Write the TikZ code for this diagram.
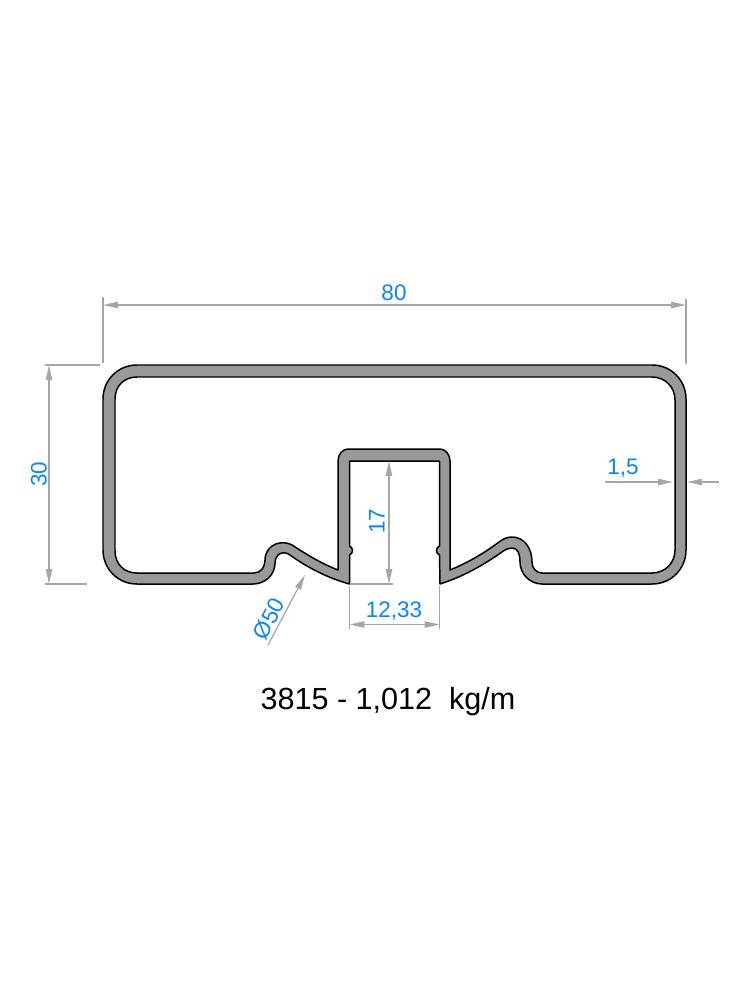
\documentclass[tikz,border=0pt]{standalone}
\usepackage{fontspec}
\setmainfont{Liberation Sans}
\usetikzlibrary{arrows.meta}
\definecolor{dimblue}{HTML}{0A84FF}
\definecolor{dimgray}{HTML}{A6A6A6}
\definecolor{wallgray}{HTML}{999999}

\begin{document}
\begin{tikzpicture}[x=0.02cm,y=-0.02cm]
	\tikzstyle{wall} = [draw=black,fill=wallgray,line width=0.85pt,even odd rule,line join=round]
	\tikzstyle{dimline} = [draw=dimgray,line width=0.7pt]
	\tikzstyle{dimarrow} = [dimline,{Triangle[length=8.5pt,width=3.6pt]}-{Triangle[length=8.5pt,width=3.6pt]}]
	\tikzstyle{dimtip} = [dimline,-{Triangle[length=8.5pt,width=3.6pt]}]
	\tikzstyle{dimlabel} = [text=dimblue,font=\fontsize{12.8}{15}\selectfont,inner sep=0pt]
	\useasboundingbox (0,0) rectangle (750,1000);
	\path[wall] (137,365) -- (652,365) .. controls (671,365) and (686,380) .. (686,399)
		-- (686,550) .. controls (686,569) and (671,584) .. (652,584)
		-- (542,584) .. controls (530,584) and (520,574) .. (520,562)
		.. controls (520,554) and (518,548) .. (512,548)
		.. controls (509,548) and (506,549) .. (502,552)
		.. controls (482,566) and (462,577) .. (440,584)
		-- (439.5,555) .. controls (437.5,554) and (436.5,552.5) .. (436.5,550.5) .. controls (436.5,548.5) and (437.5,547) .. (439.5,546)
		-- (439.5,461) -- (349.5,461) -- (349.5,546)
		.. controls (351.5,547) and (352.5,548.5) .. (352.5,550.5) .. controls (352.5,552.5) and (351.5,554) .. (349.5,555)
		-- (349.5,584) .. controls (328,578) and (308,568) .. (290,555)
		.. controls (286,552) and (281,552) .. (278,555)
		.. controls (276,557) and (275,560) .. (275,563)
		.. controls (275,575) and (265,584) .. (253,584)
		-- (137,584) .. controls (118,584) and (103,569) .. (103,550)
		-- (103,399) .. controls (103,380) and (118,365) .. (137,365) -- cycle
		(137,377) -- (652,377) .. controls (665,377) and (675,387) .. (675,400)
		-- (675,550) .. controls (675,563) and (665,573) .. (652,573)
		-- (542,573) .. controls (536,573) and (532,568) .. (532,562)
		.. controls (532,548) and (524,537) .. (512,537)
		.. controls (507,537) and (503,539) .. (499,542)
		.. controls (483,554) and (467,563) .. (450,570)
		-- (450,461) .. controls (450,454) and (445,449) .. (440,449)
		-- (348,449) .. controls (343,449) and (338,454) .. (338,461)
		-- (338,570) .. controls (320,563) and (306,554) .. (292,545)
		.. controls (288,543) and (285,542.7) .. (283,542.7)
		.. controls (272,542.7) and (265,551) .. (265,560)
		.. controls (265,567) and (261,573) .. (254,573)
		-- (137,573) .. controls (124,573) and (115,564) .. (115,551)
		-- (115,399) .. controls (115,386) and (124,377) .. (137,377) -- cycle;
	\coordinate (w1) at (103,305);
	\coordinate (w2) at (686,305);
	\coordinate (w1a) at (103,297);
	\coordinate (w1b) at (103,363);
	\coordinate (w2a) at (686,299);
	\coordinate (w2b) at (686,364);
	\coordinate (h1) at (49,365);
	\coordinate (h2) at (49,584);
	\coordinate (h1a) at (45,365);
	\coordinate (h1b) at (100,365);
	\coordinate (h2a) at (45,584);
	\coordinate (h2b) at (87,584);
	\coordinate (s1) at (389,461);
	\coordinate (s2) at (389,584);
	\coordinate (s2a) at (350,584);
	\coordinate (s2b) at (393,584);
	\coordinate (g1) at (349.5,624.5);
	\coordinate (g2) at (439.5,624.5);
	\coordinate (g1a) at (349.5,586);
	\coordinate (g1b) at (349.5,629);
	\coordinate (g2a) at (439.5,586);
	\coordinate (g2b) at (439.5,629);
	\coordinate (t1) at (605,482);
	\coordinate (t2) at (673,482);
	\coordinate (t3) at (719,482);
	\coordinate (t4) at (687,482);
	\coordinate (r1) at (268,645);
	\coordinate (r2) at (305,575);
	\draw[dimarrow] (w1)--(w2);
	\draw[dimline] (w1a)--(w1b);
	\draw[dimline] (w2a)--(w2b);
	\draw[dimarrow] (h1)--(h2);
	\draw[dimline] (h1a)--(h1b);
	\draw[dimline] (h2a)--(h2b);
	\draw[dimarrow] (s1)--(s2);
	\draw[dimline] (s2a)--(s2b);
	\draw[dimarrow] (g1)--(g2);
	\draw[dimline] (g1a)--(g1b);
	\draw[dimline] (g2a)--(g2b);
	\draw[dimtip] (t1)--(t2);
	\draw[dimtip] (t3)--(t4);
	\draw[dimtip] (r1)--(r2);
	\node[dimlabel] (l80) at (394,293) {80};
	\node[dimlabel,rotate=90] (l30) at (39,474) {30};
	\node[dimlabel,rotate=90] (l17) at (377,521) {17};
	\node[dimlabel] (l1233) at (394,611) {12,33};
	\node[dimlabel] (l15) at (623,468) {1,5};
	\node[dimlabel,rotate=62] (l50) at (269,619) {Ø50};
	\node[inner sep=0pt,font=\fontsize{17.4}{20}\selectfont] (title) at (388,701.5) {3815 - 1,012\ \ kg/m};
\end{tikzpicture}
\end{document}
